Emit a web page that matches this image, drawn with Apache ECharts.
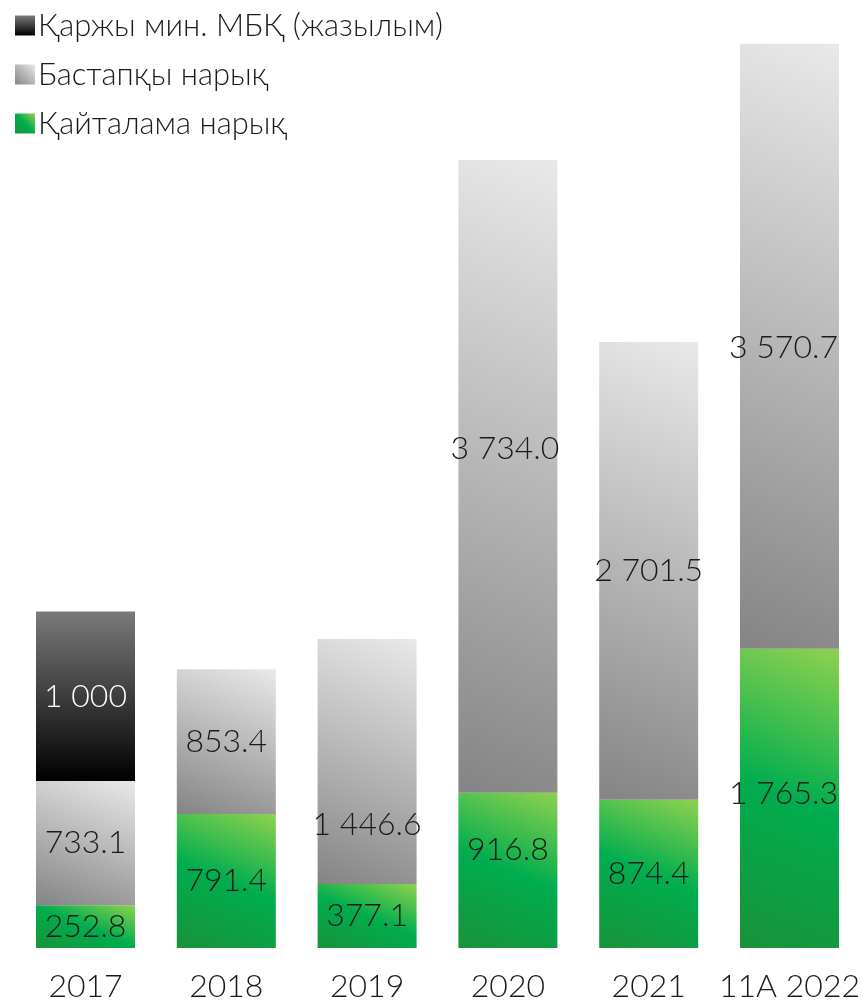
<!DOCTYPE html>
<html>
<head>
<meta charset="utf-8">
<script src="https://cdn.jsdelivr.net/npm/echarts@6/dist/echarts.min.js"></script>
<style>
html,body{margin:0;padding:0;background:#fff;}
#main{width:863px;height:1003px;}
</style>
</head>
<body>
<div id="main"></div>
<script>
var categories = ['2017', '2018', '2019', '2020', '2021', '11A 2022'];
var seriesNames = ['Қаржы мин. МБҚ (жазылым)', 'Бастапқы нарық', 'Қайталама нарық'];
var secondaryMarket = [252.8, 791.4, 377.1, 916.8, 874.4, 1765.3];
var primaryMarket = [733.1, 853.4, 1446.6, 3734.0, 2701.5, 3570.7];
var ministryBonds = [1000, null, null, null, null, null];

var Y_MAX = 5500;
var PLOT_H = 932;
var BAR_W = 99;

function fmt(v, dec) {
  var s = v.toFixed(dec);
  var parts = s.split('.');
  parts[0] = parts[0].replace(/\B(?=(\d{3})+(?!\d))/g, ' ');
  return parts.join('.');
}

// gradient at a fixed visual angle, spanning bottom-left to top-right corners
function angledGradient(v, stops, deg) {
  var w = BAR_W, h = Math.max(1, v * PLOT_H / Y_MAX);
  var t = deg * Math.PI / 180, s = Math.sin(t), c = Math.cos(t);
  var L = w * s + h * c;
  return new echarts.graphic.LinearGradient(
    0.5 - s * L / 2 / w, 0.5 + c * L / 2 / h,
    0.5 + s * L / 2 / w, 0.5 - c * L / 2 / h, stops);
}

var greenStops = [
  {offset: 0, color: '#19923a'},
  {offset: 0.5, color: '#00ad4e'},
  {offset: 1, color: '#8fd24f'}
];
var greyStops = [
  {offset: 0, color: '#848484'},
  {offset: 1, color: '#e9e9e9'}
];

// label offsets (visual placement tweaks)
var greenOffsets = [[0,0],[0,0],[0,0],[0,-21],[0,0],[-6,-5]];
var greyOffsets = [[0,0],[0,0],[0,63],[-3,-28],[0,0],[-6,1]];

var labelBase = {
  show: true,
  position: 'inside',
  fontFamily: 'Lato',
  fontWeight: 300,
  fontSize: 32,
  color: '#1a1a1a'
};

function buildData(arr, offsets, dec, stops, deg) {
  return arr.map(function (v, i) {
    if (v === null) return '-';
    var d = {
      value: v,
      label: Object.assign({}, labelBase, {
        offset: offsets ? offsets[i] : [0, 0],
        formatter: function () { return fmt(v, dec); }
      })
    };
    if (stops) d.itemStyle = {color: angledGradient(v, stops, deg)};
    return d;
  });
}

var greenGrad = new echarts.graphic.LinearGradient(0, 1, 1, 0, greenStops);
var greyGrad = new echarts.graphic.LinearGradient(0, 1, 1, 0, greyStops);
var blackGrad = new echarts.graphic.LinearGradient(0, 0, 0, 1, [
  {offset: 0, color: '#7a7a7a'},
  {offset: 1, color: '#000000'}
]);

var chart = echarts.init(document.getElementById('main'), null, {renderer: 'canvas'});
chart.setOption({
  animation: false,
  backgroundColor: '#ffffff',
  legend: {
    orient: 'vertical',
    left: 10,
    top: 5,
    itemWidth: 20,
    itemHeight: 20,
    itemGap: 18,
    icon: 'rect',
    data: seriesNames,
    textStyle: {fontFamily: 'Lato', fontWeight: 300, fontSize: 31, color: '#1a1a1a', padding: [0,0,0,-2]}
  },
  grid: {left: 85.5, right: 67.5, top: 16, bottom: 55, containLabel: false},
  xAxis: {
    type: 'category',
    data: categories,
    boundaryGap: false,
    axisLine: {show: false},
    axisTick: {show: false},
    axisLabel: {
      interval: 0,
      hideOverlap: false,
      fontFamily: 'Lato',
      fontWeight: 300,
      fontSize: 32,
      color: '#1a1a1a',
      margin: 23
    }
  },
  yAxis: {
    type: 'value',
    min: 0,
    max: Y_MAX,
    show: false,
    splitLine: {show: false}
  },
  series: [
    {
      name: seriesNames[2],
      type: 'bar',
      stack: 'total',
      barWidth: BAR_W,
      itemStyle: {color: greenGrad},
      data: buildData(secondaryMarket, greenOffsets, 1, greenStops, 22)
    },
    {
      name: seriesNames[1],
      type: 'bar',
      stack: 'total',
      barWidth: BAR_W,
      itemStyle: {color: greyGrad},
      data: buildData(primaryMarket, greyOffsets, 1, greyStops, 22)
    },
    {
      name: seriesNames[0],
      type: 'bar',
      stack: 'total',
      barWidth: BAR_W,
      itemStyle: {color: blackGrad},
      data: buildData(ministryBonds, null, 0).map(function (d) {
        if (d !== '-') d.label.color = '#ffffff';
        return d;
      })
    }
  ]
});
</script>
</body>
</html>
